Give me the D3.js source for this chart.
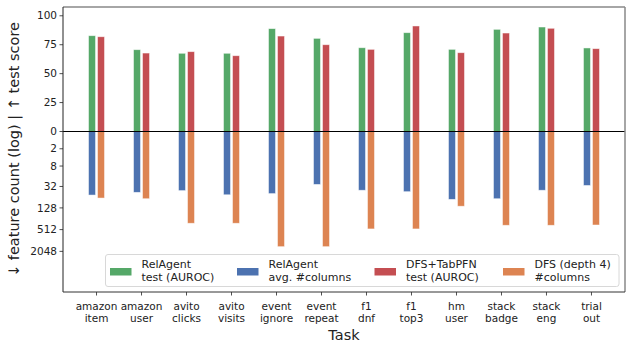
<!DOCTYPE html>
<html>
<head>
<meta charset="utf-8">
<script src="https://cdn.jsdelivr.net/npm/d3@7"></script>
<style>
  body { margin: 0; background: #fff; }
  text { font-family: "DejaVu Sans", sans-serif; }
</style>
</head>
<body>
<div id="chart"></div>
<script>
'use strict';

let width = 632;
let height = 347;
let margin = { top: 7, bottom: 55, left: 63, right: 7 };

// data
const tasks = [
    ["amazon", "item"], ["amazon", "user"], ["avito", "clicks"], ["avito", "visits"],
    ["event", "ignore"], ["event", "repeat"], ["f1", "dnf"], ["f1", "top3"],
    ["hm", "user"], ["stack", "badge"], ["stack", "eng"], ["trial", "out"],
];
const relagentScore = [82.8, 70.7, 67.6, 67.6, 88.9, 80.5, 72.4, 85.4, 71.0, 88.3, 90.3, 72.2];
const dfsScore = [81.9, 67.8, 69.0, 65.5, 82.5, 75.0, 71.0, 91.2, 68.1, 85.1, 89.2, 71.6];
const relagentCols = [56, 47, 42, 55, 51, 28, 41, 45, 74, 71, 41, 30];
const dfsCols = [68, 71, 342, 342, 1519, 1519, 491, 491, 115, 389, 389, 382];

const scoreTicks = [0, 25, 50, 75, 100];
const countTicks = [2, 8, 32, 128, 512, 2048];

const colors = { green: "#55a868", blue: "#4c72b0", red: "#c44e52", orange: "#dd8452" };

const svg = d3.select("#chart").append("svg")
    .attr("width", width)
    .attr("height", height);

const x = d3.scalePoint()
    .domain(d3.range(tasks.length))
    .range([margin.left, width - margin.right])
    .padding(0.745);

const zeroY = 131.5;
// upper half: score, lower half: log2(1 + count)
const yScore = d3.scaleLinear().domain([0, 107.6]).range([zeroY, margin.top]);
const yCount = d3.scaleLinear().domain([0, 14.73]).range([zeroY, height - margin.bottom]);
const lg = v => Math.log2(1 + v);

const barW = 7;
const off = 4.5;

function bars(values, dx, color, up) {
    svg.append("g")
        .selectAll("rect")
        .data(values)
        .join("rect")
        .attr("x", (d, i) => x(i) + dx - barW / 2)
        .attr("width", barW)
        .attr("y", d => up ? yScore(d) : zeroY)
        .attr("height", d => up ? zeroY - yScore(d) : yCount(lg(d)) - zeroY)
        .attr("fill", color)
        .attr("stroke", "rgba(255,255,255,0.6)")
        .attr("stroke-width", 0.8);
}

bars(relagentScore, -off, colors.green, true);
bars(dfsScore, off, colors.red, true);
bars(relagentCols, -off, colors.blue, false);
bars(dfsCols, off, colors.orange, false);

// zero line
svg.append("line")
    .attr("x1", margin.left).attr("x2", width - margin.right)
    .attr("y1", zeroY).attr("y2", zeroY)
    .attr("stroke", "#000").attr("stroke-width", 1);

// y ticks
const yt = svg.append("g");
const yTickData = scoreTicks.map(t => ({ label: t, y: yScore(t) }))
    .concat(countTicks.map(t => ({ label: t, y: yCount(lg(t)) })));
yt.selectAll("line").data(yTickData).join("line")
    .attr("x1", margin.left - 3.5).attr("x2", margin.left)
    .attr("y1", d => d.y).attr("y2", d => d.y)
    .attr("stroke", "#222").attr("stroke-width", 0.8);
yt.selectAll("text").data(yTickData).join("text")
    .attr("x", margin.left - 6)
    .attr("y", d => d.y)
    .attr("dy", "0.35em")
    .attr("text-anchor", "end")
    .attr("font-size", 10.5)
    .attr("fill", "#222")
    .text(d => d.label);

// x ticks
const xt = svg.append("g");
xt.selectAll("line").data(tasks).join("line")
    .attr("x1", (d, i) => x(i)).attr("x2", (d, i) => x(i))
    .attr("y1", height - margin.bottom).attr("y2", height - margin.bottom + 3.5)
    .attr("stroke", "#222").attr("stroke-width", 0.8);
const xl = xt.selectAll("text").data(tasks).join("text")
    .attr("text-anchor", "middle")
    .attr("font-size", 10.5)
    .attr("fill", "#222");
xl.append("tspan").attr("x", (d, i) => x(i)).attr("y", 309.5).text(d => d[0]);
xl.append("tspan").attr("x", (d, i) => x(i)).attr("y", 322).text(d => d[1]);

// spines
const L = margin.left, R = width - margin.right, T = margin.top, B = height - margin.bottom;
svg.append("line").attr("x1", L).attr("x2", R).attr("y1", T).attr("y2", T)
    .attr("stroke", "#888").attr("stroke-width", 1.5);
svg.append("line").attr("x1", R).attr("x2", R).attr("y1", T).attr("y2", B)
    .attr("stroke", "#888").attr("stroke-width", 1.5);
svg.append("line").attr("x1", L).attr("x2", L).attr("y1", T).attr("y2", B)
    .attr("stroke", "#222").attr("stroke-width", 1);
svg.append("line").attr("x1", L).attr("x2", R).attr("y1", B).attr("y2", B)
    .attr("stroke", "#333").attr("stroke-width", 1);

// axis titles
svg.append("text")
    .attr("x", (L + R) / 2).attr("y", 340)
    .attr("text-anchor", "middle")
    .attr("font-size", 14.5)
    .attr("fill", "#222")
    .text("Task");
svg.append("text")
    .attr("transform", `translate(19,${(T + B) / 2}) rotate(-90)`)
    .attr("text-anchor", "middle")
    .attr("font-size", 14.5)
    .attr("fill", "#222")
    .text("↓ feature count (log) | ↑ test score");

// legend
const legendItems = [
    { c: colors.green, l: ["RelAgent", "test (AUROC)"], x: 110 },
    { c: colors.blue, l: ["RelAgent", "avg. #columns"], x: 237 },
    { c: colors.red, l: ["DFS+TabPFN", "test (AUROC)"], x: 374.5 },
    { c: colors.orange, l: ["DFS (depth 4)", "#columns"], x: 503 },
];
const legend = svg.append("g");
legend.append("rect")
    .attr("x", 105.5).attr("y", 254.5)
    .attr("width", 513.5).attr("height", 32)
    .attr("rx", 2.5)
    .attr("fill", "rgba(255,255,255,0.85)")
    .attr("stroke", "#d8d8d8").attr("stroke-width", 1);
const li = legend.selectAll("g.item").data(legendItems).join("g").attr("class", "item");
li.append("rect")
    .attr("x", d => d.x).attr("y", 268)
    .attr("width", 21.5).attr("height", 7.5)
    .attr("fill", d => d.c);
const lt = li.append("text").attr("font-size", 11).attr("fill", "#222");
lt.append("tspan").attr("x", d => d.x + 31.5).attr("y", 267.5).text(d => d.l[0]);
lt.append("tspan").attr("x", d => d.x + 31.5).attr("y", 280.5).text(d => d.l[1]);
</script>
</body>
</html>
